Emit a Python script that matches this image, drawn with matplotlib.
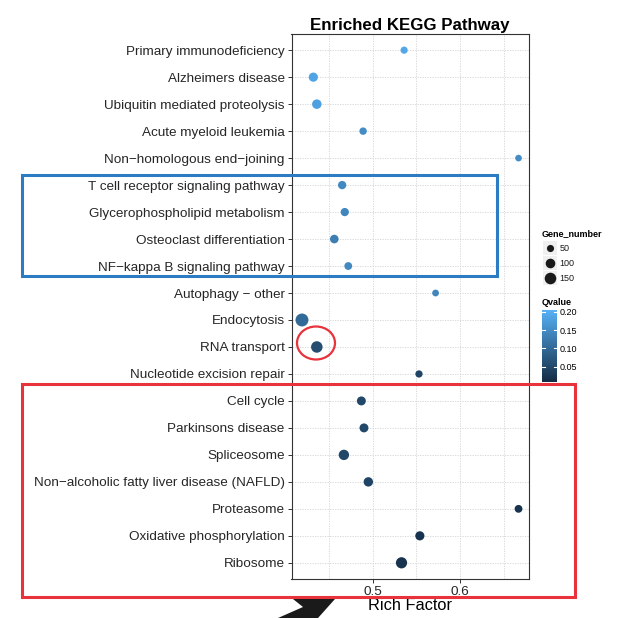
import numpy as np
import matplotlib
matplotlib.use("Agg")
import matplotlib.pyplot as plt
from matplotlib.colors import LinearSegmentedColormap, Normalize
from matplotlib.patches import Rectangle, Ellipse, Polygon
import matplotlib.cm as cm

plt.rcParams['font.family'] = ['Liberation Sans', 'DejaVu Sans']

# pathways, top to bottom
pathways = [
    "Primary immunodeficiency",
    "Alzheimers disease",
    "Ubiquitin mediated proteolysis",
    "Acute myeloid leukemia",
    "Non\u2212homologous end\u2212joining",
    "T cell receptor signaling pathway",
    "Glycerophospholipid metabolism",
    "Osteoclast differentiation",
    "NF\u2212kappa B signaling pathway",
    "Autophagy \u2212 other",
    "Endocytosis",
    "RNA transport",
    "Nucleotide excision repair",
    "Cell cycle",
    "Parkinsons disease",
    "Spliceosome",
    "Non\u2212alcoholic fatty liver disease (NAFLD)",
    "Proteasome",
    "Oxidative phosphorylation",
    "Ribosome",
]
rich_factor = [0.536, 0.432, 0.436, 0.489, 0.667,
               0.465, 0.468, 0.456, 0.472, 0.572,
               0.419, 0.436, 0.553, 0.487, 0.490,
               0.467, 0.495, 0.667, 0.554, 0.533]
gene_number = [50, 90, 97, 55, 42,
               72, 70, 78, 62, 44,
               190, 148, 52, 85, 85,
               118, 95, 62, 90, 140]
qvalue = [0.19, 0.185, 0.18, 0.15, 0.15,
          0.145, 0.14, 0.13, 0.145, 0.14,
          0.10, 0.06, 0.045, 0.05, 0.05,
          0.05, 0.045, 0.02, 0.02, 0.02]

size_breaks = [50, 100, 150]
q_ticks = [0.05, 0.10, 0.15, 0.20]
q_min, q_max = 0.008, 0.205

W, H = 621, 618
fig = plt.figure(figsize=(W / 100, H / 100), dpi=100)

cmap = LinearSegmentedColormap.from_list("qv", ["#132B43", "#56B1F7"])
norm = Normalize(q_min, q_max)


def point_size(n):
    return 5 + 0.43 * np.asarray(n, dtype=float)


# main dot plot
ax = fig.add_axes([291.5 / W, 1 - 579 / H, (529 - 291.5) / W, (579 - 34) / H])
ypos = np.arange(len(pathways))[::-1] + 1
ax.scatter(rich_factor, ypos, s=point_size(gene_number), c=qvalue,
           cmap=cmap, norm=norm, linewidths=0, zorder=3)
ax.set_xlim(0.407, 0.679)
ax.set_ylim(0.4, len(pathways) + 0.6)
ax.set_yticks(ypos)
ax.set_yticklabels(pathways)
ax.set_xticks([0.5, 0.6])
ax.set_xticklabels(["0.5", "0.6"])
ax.set_xticks([0.45, 0.55, 0.65], minor=True)
ax.tick_params(axis='both', which='major', length=3, width=0.7, color='#333333',
               labelsize=9.7, labelcolor='#262626', pad=2)
ax.tick_params(axis='x', which='minor', length=0)
ax.grid(True, which='both', color='#d3d3d3', linestyle=(0, (1.5, 1.5)), linewidth=0.6)
ax.set_axisbelow(True)
for sp in ax.spines.values():
    sp.set_color('#333333')
    sp.set_linewidth(0.8)
ax.set_title("Enriched KEGG Pathway", fontsize=12.2, fontweight='bold', pad=3)
ax.set_xlabel("Rich Factor", fontsize=11.8, labelpad=0)

# Qvalue colour bar
cax = fig.add_axes([541.7 / W, 1 - 382 / H, 15 / W, 72 / H])
cb = fig.colorbar(cm.ScalarMappable(norm=norm, cmap=cmap), cax=cax, ticks=q_ticks)
cb.outline.set_visible(False)
cb.ax.set_yticklabels([f"{t:.2f}" for t in q_ticks])
cb.ax.tick_params(length=0, labelsize=6.5, pad=2)
for t in q_ticks:
    cb.ax.plot([0, 0.2], [t, t], color='white', lw=0.8)
    cb.ax.plot([0.8, 1], [t, t], color='white', lw=0.8)
fig.text(541.5 / W, 1 - 302 / H, "Qvalue", fontsize=6.5, fontweight='bold', va='center')

# overlay in pixel coordinates for the size legend and the highlight marks
ov = fig.add_axes([0, 0, 1, 1], facecolor='none')
ov.set_xlim(0, W)
ov.set_ylim(H, 0)
ov.axis('off')

ov.text(541.5, 234, "Gene_number", fontsize=6.5, fontweight='bold', va='center')
for i, b in enumerate(size_breaks):
    yy = 248.3 + i * 15
    ov.add_patch(Rectangle((543, yy - 7), 14, 14, facecolor='#f0f0f0', edgecolor='none'))
    ov.scatter([550], [yy], s=point_size(b), color='#1a1a1a', linewidths=0)
    ov.text(559.5, yy, str(b), fontsize=6.5, va='center', color='#1a1a1a')

ov.add_patch(Rectangle((22, 175), 475, 101, fill=False, edgecolor='#2b7cc2', lw=2.2))
ov.add_patch(Rectangle((22, 384), 553, 213, fill=False, edgecolor='#e8323c', lw=2.2))
ov.add_patch(Ellipse((316, 343), 38, 33, fill=False, edgecolor='#e8323c', lw=1.6))
ov.add_patch(Polygon([(293, 599), (335, 599), (318, 618), (278, 618), (303, 607)],
                     closed=True, facecolor='#1a1a1a', edgecolor='none'))

fig.savefig("out.png", dpi=100)
